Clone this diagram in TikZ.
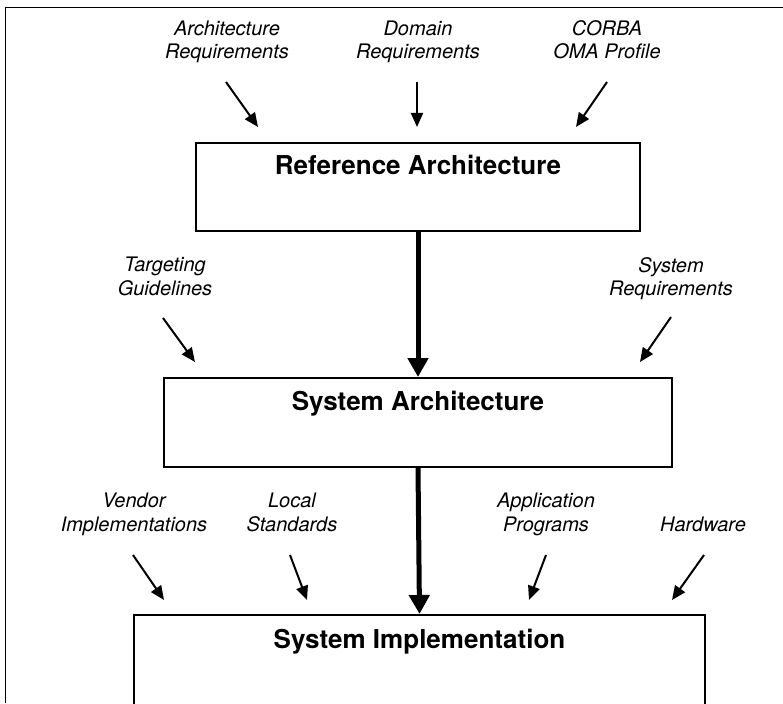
\documentclass[tikz,border=0pt]{standalone}
\usepackage{fontspec}
\setmainfont{TeX Gyre Heros}
\usetikzlibrary{arrows.meta}
\begin{document}
\begin{tikzpicture}[x=1pt,y=-1pt,
  lbl/.style={font=\fontsize{20}{23.3}\selectfont\itshape, align=center, inner sep=0pt, anchor=north},
  boxn/.style={draw, line width=2pt, anchor=north west, inner sep=0pt},
  boxt/.style={font=\fontsize{26}{30}\selectfont\bfseries, inner sep=0pt, anchor=base},
  inarrow/.style={line width=2pt, -{Triangle[length=14pt,width=12pt]}},
  mainarrow/.style={line width=5pt, -{Triangle[length=19pt,width=20pt]}}
]
\useasboundingbox (0,0) rectangle (783,703);
\clip (0,0) rectangle (783,703);
% frame
\draw[line width=1.5pt] (5.5,703) -- (5.5,7.5) -- (783,7.5);
% boxes
\node[boxn, minimum width=444pt, minimum height=88pt] (b1) at (195,142) {};
\node[boxt] (b1t) at ([yshift=-33pt]b1.north) {Reference Architecture};
\node[boxn, minimum width=508pt, minimum height=89pt] (b2) at (163,377) {};
\node[boxt] (b2t) at ([yshift=-33.5pt]b2.north) {System Architecture};
\node[boxn, minimum width=571pt, minimum height=150pt] (b3) at (133,614) {};
\node[boxt] (b3t) at ([yshift=-34.5pt]b3.north) {System Implementation};
% labels
\node[lbl] (ar) at (227,20.5) {Architecture\\Requirements};
\node[lbl] (dr) at (418,20.5) {Domain\\Requirements};
\node[lbl] (co) at (607,20.5) {CORBA\\OMA Profile};
\node[lbl] (tg) at (165,257) {Targeting\\Guidelines};
\node[lbl] (sr) at (671,257) {System\\Requirements};
\node[lbl] (vi) at (134,493) {Vendor\\Implementations};
\node[lbl] (ls) at (292,493) {Local\\Standards};
\node[lbl] (ap) at (546,493) {Application\\Programs};
\node[lbl] (hw) at (703,516.5) {Hardware};
% arrow end points
\coordinate (ars) at (226,82);  \coordinate (are) at (258,127);
\coordinate (drs) at (417,82);  \coordinate (dre) at (417,127);
\coordinate (cos) at (607,82);  \coordinate (coe) at (576,127);
\coordinate (tgs) at (163,318); \coordinate (tge) at (195,362);
\coordinate (srs) at (671,317); \coordinate (sre) at (640,362);
\coordinate (vis) at (133,555); \coordinate (vie) at (164,600);
\coordinate (lss) at (290,555); \coordinate (lse) at (307,600);
\coordinate (aps) at (546,555); \coordinate (ape) at (529,600);
\coordinate (hws) at (704,555); \coordinate (hwe) at (672,600);
\draw[inarrow] (ars) -- (are);
\draw[inarrow] (drs) -- (dre);
\draw[inarrow] (cos) -- (coe);
\draw[inarrow] (tgs) -- (tge);
\draw[inarrow] (srs) -- (sre);
\draw[inarrow] (vis) -- (vie);
\draw[inarrow] (lss) -- (lse);
\draw[inarrow] (aps) -- (ape);
\draw[inarrow] (hws) -- (hwe);
% main flow
\draw[mainarrow] (b1.south) -- (b2.north);
\draw[mainarrow] (b2.south) -- (b3.north);
\end{tikzpicture}
\end{document}
